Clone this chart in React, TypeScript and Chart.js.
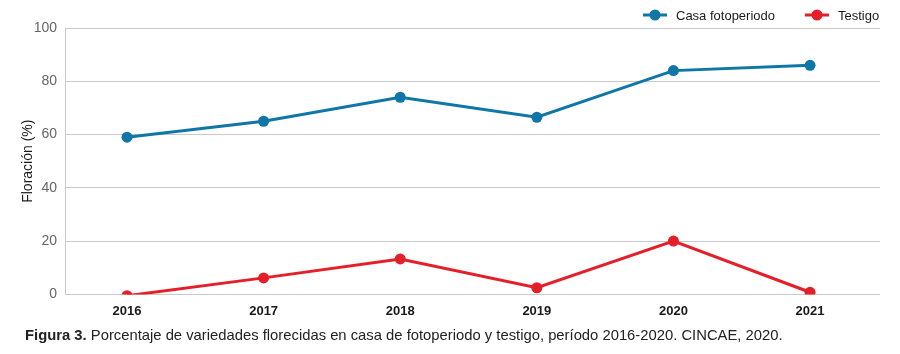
import React, { useEffect, useRef } from "react";
import { Chart, registerables } from "chart.js";

Chart.register(...registerables);

const years = [2016, 2017, 2018, 2019, 2020, 2021];
const casaFotoperiodo = [59, 65, 74, 66.5, 84, 86];
const testigo = [-0.5, 6.2, 13.3, 2.5, 20, 0.8];
const yTicks = [0, 20, 40, 60, 80, 100];

const BLUE = "#0f76a8";
const RED = "#e51f2a";
const FONT = "'Liberation Sans', Arial, sans-serif";

const legendPlugin = {
  id: "customLegend",
  afterDraw(chart: any) {
    const ctx = chart.ctx;
    const items = [
      { label: "Casa fotoperiodo", color: BLUE, x: 643 },
      { label: "Testigo", color: RED, x: 805 },
    ];
    const y = 15;
    ctx.save();
    items.forEach((it) => {
      ctx.strokeStyle = it.color;
      ctx.lineWidth = 3;
      ctx.beginPath();
      ctx.moveTo(it.x, y);
      ctx.lineTo(it.x + 24, y);
      ctx.stroke();
      ctx.fillStyle = it.color;
      ctx.beginPath();
      ctx.arc(it.x + 12, y, 5.5, 0, Math.PI * 2);
      ctx.fill();
      ctx.fillStyle = "#1a1a1a";
      ctx.font = "13px " + FONT;
      ctx.textBaseline = "middle";
      ctx.textAlign = "left";
      ctx.fillText(it.label, it.x + 33, y + 1);
    });
    ctx.restore();
  },
};

export default function App() {
  const ref = useRef<HTMLCanvasElement>(null);
  useEffect(() => {
    if (!ref.current) return;
    const mk = (vals: number[]) => vals.map((v, i) => ({ x: years[i], y: v }));
    const chart = new Chart(ref.current, {
      type: "line",
      data: {
        datasets: [
          {
            label: "Casa fotoperiodo",
            data: mk(casaFotoperiodo),
            borderColor: BLUE,
            backgroundColor: BLUE,
            borderWidth: 3,
            pointRadius: 5.5,
            pointHoverRadius: 5.5,
            pointBorderWidth: 0,
            tension: 0,
          },
          {
            label: "Testigo",
            data: mk(testigo),
            borderColor: RED,
            backgroundColor: RED,
            borderWidth: 3,
            pointRadius: 5.5,
            pointHoverRadius: 5.5,
            pointBorderWidth: 0,
            tension: 0,
          },
        ],
      },
      options: {
        animation: false,
        responsive: false,
        maintainAspectRatio: false,
        layout: { padding: { top: 28, right: 20, left: 0, bottom: 0 } },
        plugins: {
          legend: { display: false },
          tooltip: { enabled: false },
        },
        scales: {
          x: {
            type: "linear",
            min: years[0] - 0.454,
            max: years[years.length - 1] + 0.512,
            afterBuildTicks(scale: any) {
              scale.ticks = years.map((v) => ({ value: v }));
            },
            grid: { display: false, drawTicks: false },
            border: { display: false },
            ticks: {
              color: "#1a1a1a",
              font: { family: FONT, size: 13, weight: "bold" },
              padding: 9,
              callback: (v: any) => String(v),
            },
          },
          y: {
            min: 0,
            max: 100,
            afterFit(scale: any) {
              scale.width = 65;
            },
            afterBuildTicks(scale: any) {
              scale.ticks = yTicks.map((v) => ({ value: v }));
            },
            grid: { color: "#c9c9c9", lineWidth: 1, drawTicks: false },
            border: { display: true, color: "#c9c9c9", width: 1 },
            ticks: {
              color: "#666666",
              font: { family: FONT, size: 14 },
              padding: 8,
            },
            title: {
              display: true,
              text: "Floración (%)",
              color: "#1a1a1a",
              font: { family: FONT, size: 14 },
              padding: { top: 20, bottom: 0 },
            },
          },
        },
      },
      plugins: [legendPlugin],
    });
    return () => chart.destroy();
  }, []);

  return (
    <div style={{ position: "absolute", left: 0, top: 0, width: 900, height: 354, background: "#fff" }}>
      <canvas ref={ref} width={900} height={328} style={{ position: "absolute", left: 0, top: 0, width: 900, height: 328 }} />
      <div
        style={{
          position: "absolute",
          left: 25,
          top: 327,
          fontFamily: FONT,
          fontSize: 14.8,
          color: "#222",
          whiteSpace: "nowrap",
        }}
      >
        <b>Figura 3.</b> Porcentaje de variedades florecidas en casa de fotoperiodo y testigo, período 2016-2020. CINCAE, 2020.
      </div>
    </div>
  );
}
